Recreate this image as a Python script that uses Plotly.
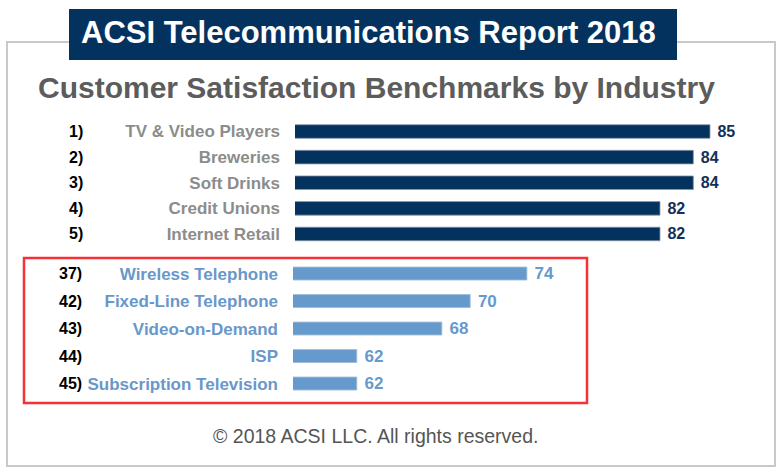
import plotly.graph_objects as go

# ---------------- data ----------------
top_ranks = ["1)", "2)", "3)", "4)", "5)"]
top_industries = ["TV & Video Players", "Breweries", "Soft Drinks", "Credit Unions", "Internet Retail"]
top_scores = [85, 84, 84, 82, 82]

tel_ranks = ["37)", "42)", "43)", "44)", "45)"]
tel_industries = ["Wireless Telephone", "Fixed-Line Telephone", "Video-on-Demand", "ISP", "Subscription Television"]
tel_scores = [74, 70, 68, 62, 62]

header_text = "ACSI Telecommunications Report 2018"
subtitle_text = "Customer Satisfaction Benchmarks by Industry"
footer_text = "\u00a9 2018 ACSI LLC. All rights reserved."

# ---------------- layout helpers ----------------
W, H = 781, 472
def fx(p):
    return p / W
def fy(p):
    return 1 - p / H

FONT = "Liberation Sans, Arial, Helvetica, sans-serif"
NAVY = "#03325f"
LIGHT = "#6699cc"

fig = go.Figure()

fig.add_trace(go.Bar(
    x=top_scores, y=top_industries, orientation="h",
    xaxis="x", yaxis="y",
    marker=dict(color=NAVY, line=dict(color="rgba(140,150,165,0.8)", width=1)),
    width=0.53,
    text=top_scores, texttemplate=" %{text}", textposition="outside",
    textfont=dict(family=FONT, size=16, color="#14305a", weight="bold"),
    constraintext="none", cliponaxis=False, hoverinfo="skip", showlegend=False,
))

fig.add_trace(go.Bar(
    x=tel_scores, y=tel_industries, orientation="h",
    xaxis="x2", yaxis="y2",
    marker=dict(color=LIGHT, line=dict(color="rgba(160,190,215,0.9)", width=1)),
    width=0.47,
    text=tel_scores, texttemplate=" %{text}", textposition="outside",
    textfont=dict(family=FONT, size=17, color=LIGHT, weight="bold"),
    constraintext="none", cliponaxis=False, hoverinfo="skip", showlegend=False,
))

yax_common = dict(type="category", showgrid=False, zeroline=False, showline=False,
                  ticks="", ticklabelstandoff=14, range=[4.5, -0.5], fixedrange=True)

fig.update_layout(
    width=W, height=H,
    margin=dict(l=0, r=0, t=0, b=0),
    paper_bgcolor="white", plot_bgcolor="rgba(0,0,0,0)",
    bargap=0.4,
    xaxis=dict(domain=[fx(295), fx(765)], range=[60.1, 88.3], visible=False, anchor="y"),
    yaxis=dict(domain=[fy(246.8), fy(118.7)], anchor="x",
               categoryorder="array", categoryarray=top_industries,
               tickfont=dict(family=FONT, size=17, color="#8c8c8c", weight="bold"),
               **yax_common),
    xaxis2=dict(domain=[fx(293), fx(765)], range=[57.5, 90.8], visible=False, anchor="y2"),
    yaxis2=dict(domain=[fy(397.3), fy(259.8)], anchor="x2",
                categoryorder="array", categoryarray=tel_industries,
                tickfont=dict(family=FONT, size=17, color="#6a97c9", weight="bold"),
                **yax_common),
)

shapes = [
    # outer light frame
    dict(type="rect", xref="paper", yref="paper", x0=fx(7), x1=fx(775), y0=fy(466), y1=fy(42),
         line=dict(color="#c9c9c9", width=2), fillcolor="rgba(0,0,0,0)", layer="below"),
    # header box
    dict(type="rect", xref="paper", yref="paper", x0=fx(69), x1=fx(677), y0=fy(60), y1=fy(9),
         line=dict(width=0), fillcolor="#03325f", layer="below"),
    # red highlight box
    dict(type="rect", xref="paper", yref="paper", x0=fx(24), x1=fx(587), y0=fy(403), y1=fy(258),
         line=dict(color="#f53036", width=2.5), fillcolor="rgba(0,0,0,0)", layer="above"),
]
fig.update_layout(shapes=shapes)

annotations = [
    dict(text=header_text, xref="paper", yref="paper", x=fx(79), y=fy(32),
         xanchor="left", yanchor="middle", showarrow=False,
         font=dict(family=FONT, size=31, color="white", weight="bold")),
    dict(text=subtitle_text, xref="paper", yref="paper", x=fx(36), y=fy(87),
         xanchor="left", yanchor="middle", showarrow=False,
         font=dict(family=FONT, size=30, color="#5c5c5c", weight="bold")),
    dict(text=footer_text, xref="paper", yref="paper", x=fx(375), y=fy(436),
         xanchor="center", yanchor="middle", showarrow=False,
         font=dict(family=FONT, size=19.5, color="#555555")),
]
for r, c in zip(top_ranks, top_industries):
    annotations.append(dict(text=r, xref="paper", yref="y", x=fx(85), y=c,
                            xanchor="right", yanchor="middle", showarrow=False,
                            font=dict(family=FONT, size=16, color="black", weight="bold")))
for r, c in zip(tel_ranks, tel_industries):
    annotations.append(dict(text=r, xref="paper", yref="y2", x=fx(84), y=c,
                            xanchor="right", yanchor="middle", showarrow=False,
                            font=dict(family=FONT, size=16, color="black", weight="bold")))
fig.update_layout(annotations=annotations)

fig.write_html("out.html", config=dict(displayModeBar=False))
